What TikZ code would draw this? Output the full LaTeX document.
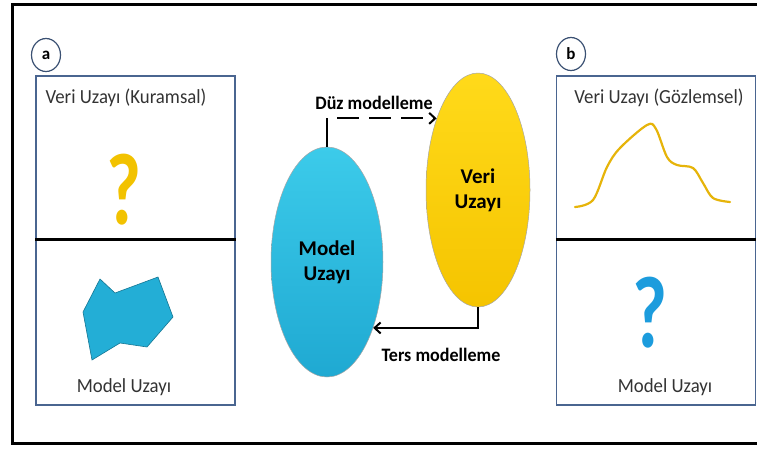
\documentclass[tikz,border=0pt]{standalone}
\usepackage{fontspec}
\setmainfont{Carlito}
\usetikzlibrary{shapes.geometric,arrows.meta}
\definecolor{framebl}{HTML}{4A6590}
\definecolor{cyanA}{HTML}{3CCBEA}
\definecolor{cyanB}{HTML}{1FA9D2}
\definecolor{yelA}{HTML}{FFDA1A}
\definecolor{yelB}{HTML}{F5C400}
\definecolor{qyel}{HTML}{F2C200}
\definecolor{curve}{HTML}{E6B40A}
\definecolor{qblue}{HTML}{1C9CDD}
\begin{document}
\begin{tikzpicture}[x=1pt,y=-1pt,
  panel/.style={draw=framebl,line width=1.4pt,minimum width=199pt,minimum height=329pt,inner sep=0pt},
  divider/.style={line width=3pt,black},
  tag/.style={ellipse,draw=framebl!80!black,line width=1.2pt,fill=white,minimum width=29pt,minimum height=33pt,inner sep=0pt,font=\bfseries\fontsize{17}{17}\selectfont},
  ptext/.style={font=\fontsize{20}{22}\selectfont,text=black!80,xscale=0.94},
  qmark/.style={font=\bfseries\fontsize{102}{102}\selectfont,xscale=0.74,inner sep=0pt},
  blob/.style={ellipse,draw=black!35,line width=0.5pt,inner sep=0pt,align=center,font=\bfseries\fontsize{21}{25}\selectfont},
  conn/.style={line width=2.2pt,black},
  tip/.style={-{Straight Barb[length=6pt,width=11pt,line width=2pt]}},
  clabel/.style={font=\bfseries\fontsize{19}{20}\selectfont,xscale=0.95}]
\useasboundingbox (0,0) rectangle (757,448);
% outer frame (right side cut off)
\draw[line width=3pt] (770,4) -- (12,4) -- (12,443) -- (770,443);

% left panel
\node[panel] (pa) at (135.5,240.5) {};
\coordinate (pamid) at (0,239);
\draw[divider] (pa.west |- pamid) -- (pa.east |- pamid);
\node[tag] (ta) at (46,55) {a};
\node[ptext] (pat) at (126,98) {Veri Uzayı (Kuramsal)};
\node[qmark,text=qyel] (qa) at (124,190) {?};
\fill[cyanB!85!cyanA,draw=cyanB!70!black,line width=0.6pt]
  (100,279) -- (115,293) -- (158,277) -- (173,317) -- (147,347) -- (120,343) -- (92,360) -- (83,312) -- cycle;
\node[ptext] (pab) at (124,387) {Model Uzayı};

% right panel
\node[panel] (pb) at (656,240.5) {};
\draw[divider] (pb.west |- pamid) -- (pb.east |- pamid);
\node[tag] (tb) at (571,54) {b};
\node[ptext] (pbt) at (659,98) {Veri Uzayı (Gözlemsel)};
\draw[curve,line width=2.2pt,line cap=round] plot[smooth,tension=0.55] coordinates
  {(575,207) (593,200) (607,167) (620,148) (647,125) (656,129) (667,157) (677,165) (693,168) (703,183) (713,198) (730,202)};
\node[qmark,text=qblue] (qb) at (650,313) {?};
\node[ptext] (pbb) at (665,387) {Model Uzayı};

% ellipses
\node[blob,minimum width=112pt,minimum height=230pt,top color=cyanA,bottom color=cyanB] (model) at (327,262) {Model\\Uzayı};
\node[blob,minimum width=104pt,minimum height=234pt,top color=yelA,bottom color=yelB] (veri) at (478,190) {Veri\\Uzayı};

% Düz modelleme
\coordinate (dz) at (model.north |- veri.120);
\draw[conn] (model.north) -- (dz);
\draw[conn,tip,dash pattern=on 22pt off 10pt,dash phase=-10pt] (dz) -- (veri.120);
\node[clabel] (dzl) at (374,103) {Düz modelleme};

% Ters modelleme
\coordinate (ts) at (veri.south |- model.-55);
\draw[conn,tip] (veri.south) -- (ts) -- (model.-55);
\node[clabel] (tsl) at (441,355) {Ters modelleme};
\end{tikzpicture}
\end{document}
